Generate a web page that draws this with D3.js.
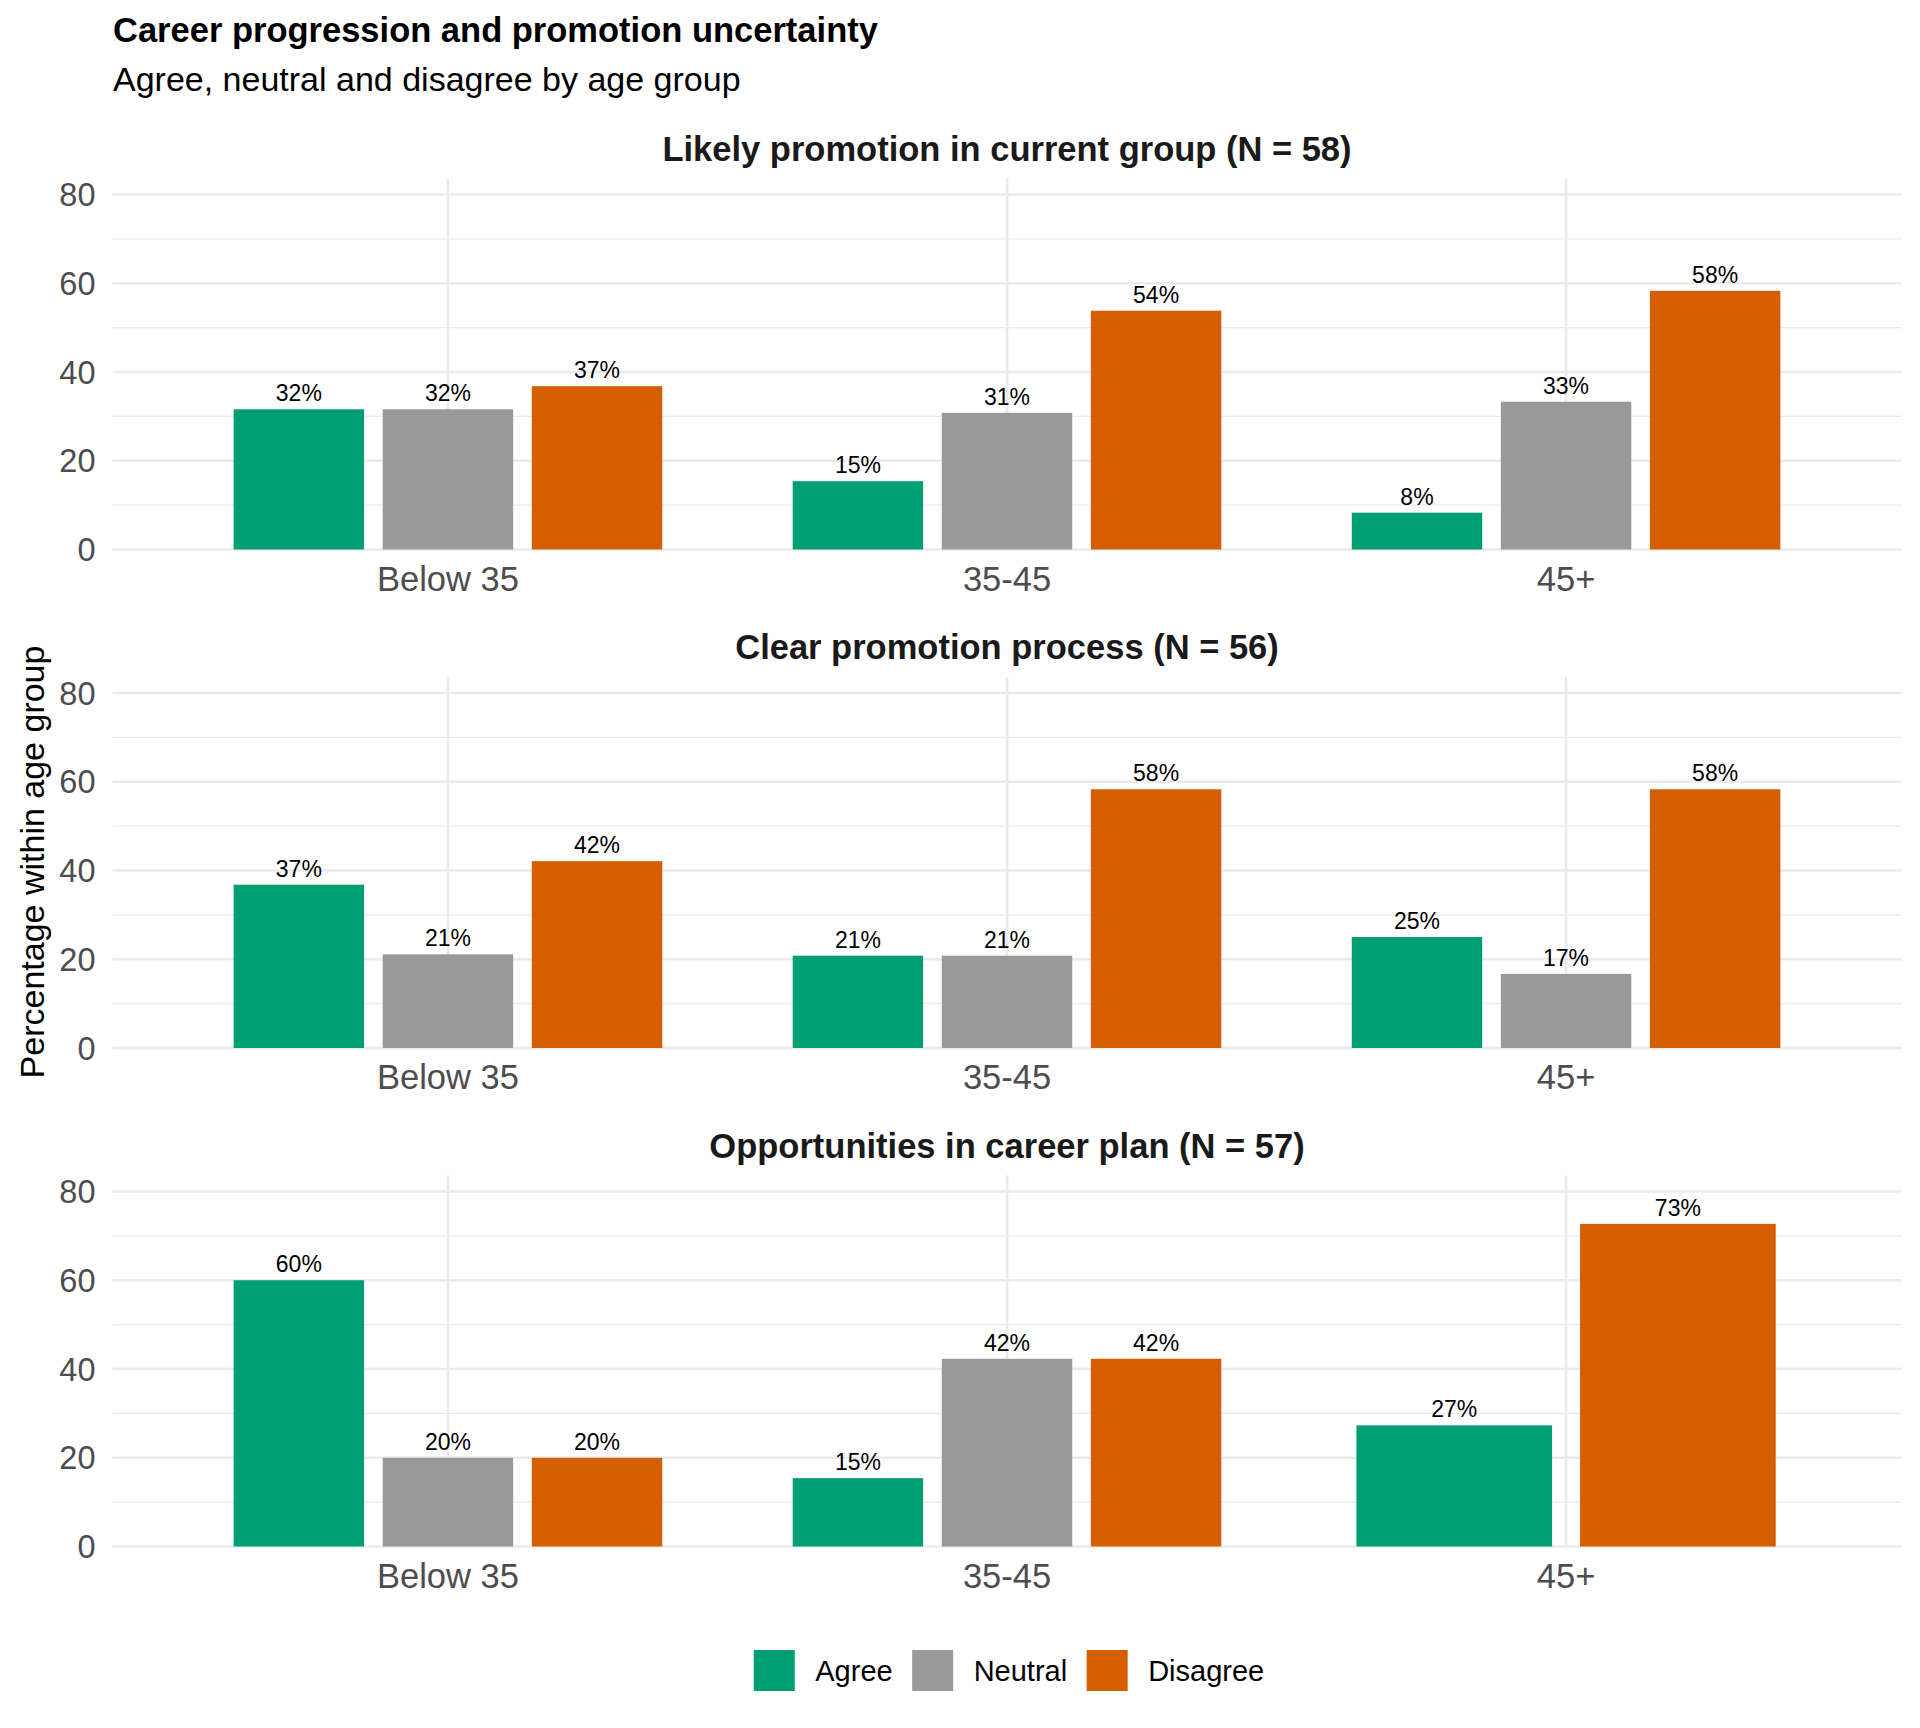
<!DOCTYPE html>
<html>
<head>
<meta charset="utf-8">
<script src="https://cdn.jsdelivr.net/npm/d3@7"></script>
<style>
  body { margin: 0; background: #fff; }
  svg { font-family: "Liberation Sans", Arial, sans-serif; }
</style>
</head>
<body>
<div id="chart"></div>
<script>
// data
var ageGroups = ["Below 35", "35-45", "45+"];
var responses = ["Agree", "Neutral", "Disagree"];
var panelTitles = [
    "Likely promotion in current group (N = 58)",
    "Clear promotion process (N = 56)",
    "Opportunities in career plan (N = 57)"
];
// one row per age group: agree, neutral, disagree (null = no bar)
var likelyPromotion = [[31.6, 31.6, 36.8], [15.4, 30.8, 53.8], [8.3, 33.3, 58.3]];
var clearProcess = [[36.8, 21.1, 42.1], [20.8, 20.8, 58.3], [25.0, 16.7, 58.3]];
var careerPlan = [[60.0, 20.0, 20.0], [15.4, 42.3, 42.3], [27.3, null, 72.7]];
var yTicks = [0, 20, 40, 60, 80];
var yMinor = [10, 30, 50, 70];

var colors = { "Agree": "#009E73", "Neutral": "#999999", "Disagree": "#D55E00" };

var W = 1920, H = 1728;
var left = 112.5, right = 1901.5;
var panelH = 371, panelTops = [178.5, 677, 1175.5];

var svg = d3.select('#chart').append('svg')
    .attr('width', W)
    .attr('height', H);

svg.append('text')
    .attr('x', 113).attr('y', 41.5)
    .attr('font-size', 34.5).attr('font-weight', 'bold')
    .attr('fill', '#000')
    .text('Career progression and promotion uncertainty');

svg.append('text')
    .attr('x', 113).attr('y', 91)
    .attr('font-size', 34).attr('fill', '#000')
    .text('Agree, neutral and disagree by age group');

svg.append('text')
    .attr('transform', 'translate(43.5,862) rotate(-90)')
    .attr('text-anchor', 'middle')
    .attr('font-size', 34).attr('fill', '#000')
    .text('Percentage within age group');

// ggplot discrete expand: centres at left + (0.6 + i) * step
var step = (right - left) / 3.2;
function cx(g) { return left + (0.6 + ageGroups.indexOf(g)) * step; }

var panels = [likelyPromotion, clearProcess, careerPlan];

panels.forEach(function (vals, p) {
    var top = panelTops[p];
    var y = d3.scaleLinear().domain([0, 83.6]).range([top + panelH, top]);
    var g = svg.append('g');

    // gridlines
    g.selectAll('line.minor').data(yMinor).enter().append('line')
        .attr('x1', left).attr('x2', right)
        .attr('y1', function (d) { return y(d); })
        .attr('y2', function (d) { return y(d); })
        .attr('stroke', '#EBEBEB').attr('stroke-width', 1.3);
    g.selectAll('line.major').data(yTicks).enter().append('line')
        .attr('x1', left).attr('x2', right)
        .attr('y1', function (d) { return y(d); })
        .attr('y2', function (d) { return y(d); })
        .attr('stroke', '#EBEBEB').attr('stroke-width', 2.6);
    g.selectAll('line.vert').data(ageGroups).enter().append('line')
        .attr('x1', cx).attr('x2', cx)
        .attr('y1', top).attr('y2', top + panelH)
        .attr('stroke', '#EBEBEB').attr('stroke-width', 2.6);

    // y tick labels
    g.selectAll('text.ytick').data(yTicks).enter().append('text')
        .attr('x', 95.5)
        .attr('y', function (d) { return y(d); })
        .attr('dy', '0.36em')
        .attr('text-anchor', 'end')
        .attr('font-size', 32.5).attr('fill', '#4D4D4D')
        .text(function (d) { return d; });

    // x tick labels
    g.selectAll('text.xtick').data(ageGroups).enter().append('text')
        .attr('x', cx)
        .attr('y', top + panelH + 41)
        .attr('text-anchor', 'middle')
        .attr('font-size', 34.5).attr('fill', '#4D4D4D')
        .text(function (d) { return d; });

    // strip title
    g.append('text')
        .attr('x', (left + right) / 2)
        .attr('y', top - 18)
        .attr('text-anchor', 'middle')
        .attr('font-size', 34.5).attr('font-weight', 'bold').attr('fill', '#1A1A1A')
        .text(panelTitles[p]);

    // bars, dodged like ggplot: width 0.7, dodge 0.8
    var bars = [];
    ageGroups.forEach(function (grp, i) {
        var present = responses.filter(function (r, k) { return vals[i][k] !== null; });
        var n = present.length;
        present.forEach(function (r, j) {
            var v = vals[i][responses.indexOf(r)];
            bars.push({
                group: grp, resp: r, value: v,
                x: cx(grp) + (j - (n - 1) / 2) * (0.8 / n) * step,
                w: (0.7 / n) * step
            });
        });
    });

    g.selectAll('rect.bar').data(bars).enter().append('rect')
        .attr('x', function (d) { return d.x - d.w / 2; })
        .attr('width', function (d) { return d.w; })
        .attr('y', function (d) { return y(d.value); })
        .attr('height', function (d) { return y(0) - y(d.value); })
        .attr('fill', function (d) { return colors[d.resp]; });

    g.selectAll('text.lbl').data(bars).enter().append('text')
        .attr('x', function (d) { return d.x; })
        .attr('y', function (d) { return y(d.value) - 8; })
        .attr('text-anchor', 'middle')
        .attr('font-size', 23).attr('fill', '#000')
        .text(function (d) { return Math.round(d.value) + '%'; });
});

// legend
var legend = svg.append('g');
var keySize = 41, keyGap = 20.5, itemGap = 19.5;
var items = legend.selectAll('g.item').data(responses).enter().append('g');
items.append('rect')
    .attr('width', keySize).attr('height', keySize)
    .attr('y', 1650)
    .attr('fill', function (d) { return colors[d]; });
items.append('text')
    .attr('x', keySize + keyGap)
    .attr('y', 1681)
    .attr('font-size', 29).attr('fill', '#000')
    .text(function (d) { return d; });
var pos = 0, offsets = [];
items.each(function () {
    offsets.push(pos);
    pos += keySize + keyGap + this.querySelector('text').getComputedTextLength() + itemGap;
});
var total = pos - itemGap;
var start = (left + right) / 2 - total / 2 + 2;
items.attr('transform', function (d, i) { return 'translate(' + (start + offsets[i]) + ',0)'; });
</script>
</body>
</html>
